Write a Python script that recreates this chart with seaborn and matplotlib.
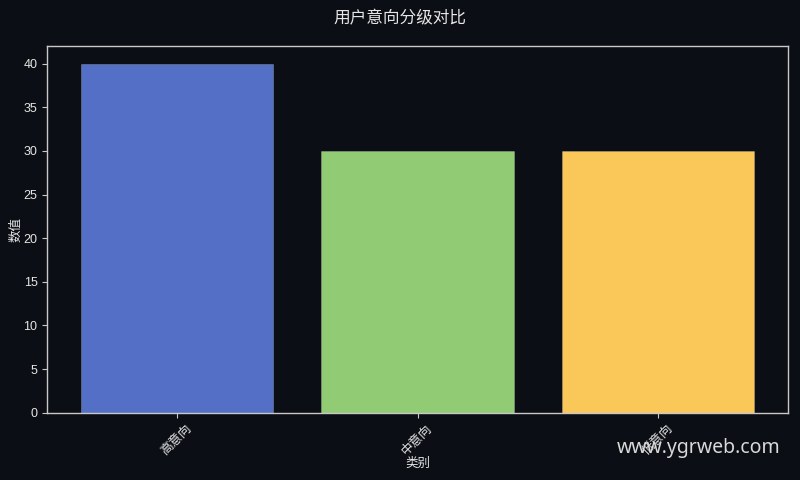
import matplotlib
matplotlib.use('Agg')
import matplotlib.pyplot as plt
import seaborn as sns
import pandas as pd

# 数据
categories = ['高意向', '中意向', '低意向']
values = [40, 30, 30]
colors = ['#5470c6', '#91cc75', '#fac858']

bg = '#0b0e14'
fg = '#e6e6e6'

sns.set_style('dark')
plt.rcParams['font.family'] = ['Liberation Sans', 'Noto Sans CJK SC', 'DejaVu Sans']
plt.rcParams['axes.unicode_minus'] = False

df = pd.DataFrame({'类别': categories, '数值': values})

fig = plt.figure(figsize=(8, 4.8), dpi=100, facecolor=bg)
ax = fig.add_axes([0.059, 0.14, 0.926, 0.764])
ax.set_facecolor(bg)

sns.barplot(data=df, x='类别', y='数值', hue='类别', palette=colors,
            saturation=1, legend=False, width=0.8,
            edgecolor='#ffffff', linewidth=0.4, ax=ax)
for p in ax.patches:
    p.set_edgecolor((1, 1, 1, 0.35))

ax.set_xlim(-0.54, len(categories) - 0.46)
ax.set_ylim(0, max(values) * 1.05)
ax.set_yticks(range(0, 41, 5))

for s in ax.spines.values():
    s.set_visible(True)
    s.set_color('#c8c8c8')
    s.set_linewidth(1.0)

ax.tick_params(axis='both', colors='#c8c8c8', labelcolor=fg, labelsize=9,
               length=3.5, width=0.8, bottom=True, left=True)
plt.setp(ax.get_xticklabels(), rotation=45, ha='center')

ax.set_xlabel('类别', color=fg, fontsize=9, labelpad=0.5)
ax.set_ylabel('数值', color=fg, fontsize=9, labelpad=1)
ax.grid(False)

fig.suptitle('用户意向分级对比', color=fg, fontsize=12, y=0.9625, va='center')

# 水印
fig.text(0.976, 0.066, 'www.ygrweb.com', color='#d9d9d9', fontsize=14,
         ha='right', va='center', family=['Noto Sans', 'DejaVu Sans'])

fig.savefig('out.png', dpi=100, facecolor=bg)
